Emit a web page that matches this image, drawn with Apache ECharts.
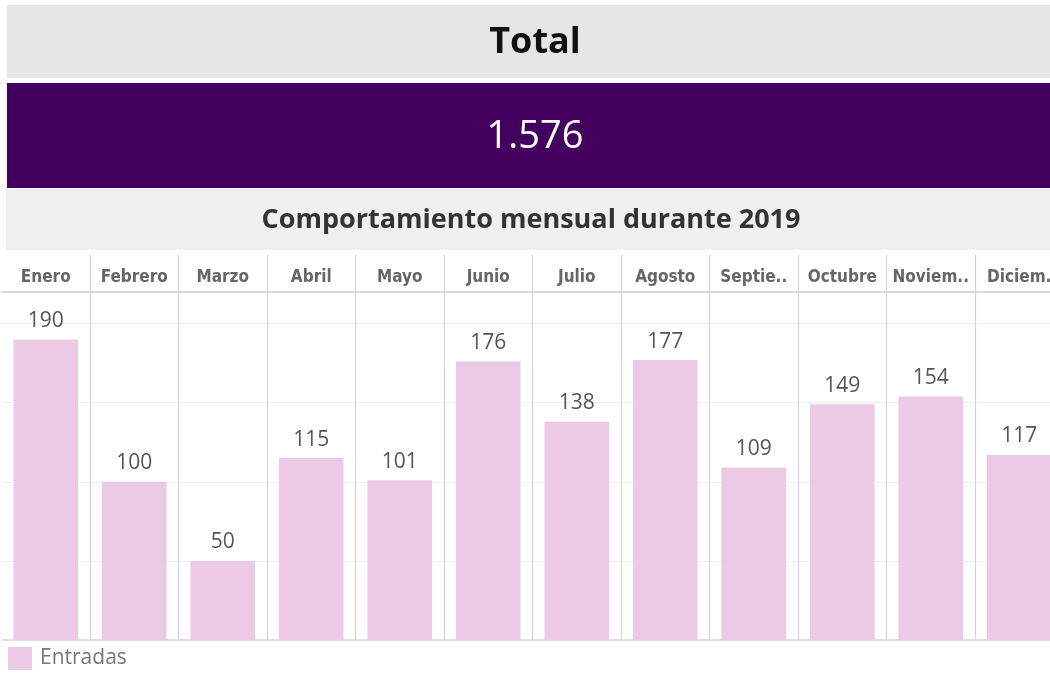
<!DOCTYPE html>
<html>
<head>
<meta charset="utf-8">
<script src="https://cdn.jsdelivr.net/npm/echarts@6/dist/echarts.min.js"></script>
<style>
  html, body { margin: 0; padding: 0; background: #fff; }
  #chart { width: 1050px; height: 673px; }
</style>
</head>
<body>
<div id="chart"></div>
<script>
// datos
const meses = ['Enero', 'Febrero', 'Marzo', 'Abril', 'Mayo', 'Junio', 'Julio', 'Agosto', 'Septie..', 'Octubre', 'Noviem..', 'Diciem.'];
const entradas = [190, 100, 50, 115, 101, 176, 138, 177, 109, 149, 154, 117];
const yMin = 0;
const yMax = 220;
const yInterval = 50;

const total = entradas.reduce((a, b) => a + b, 0);
// separador de miles con punto
const totalTexto = String(total).replace(/\B(?=(\d{3})+(?!\d))/g, '.');

const headerFont = '"Liberation Sans Narrow", "DejaVu Sans Condensed", Roboto, sans-serif';

const chart = echarts.init(document.getElementById('chart'));

const option = {
  animation: false,
  backgroundColor: '#fff',
  graphic: [
    { type: 'rect', shape: { x: 7, y: 5, width: 1043, height: 73 }, style: { fill: '#e6e6e6' } },
    { type: 'rect', shape: { x: 7, y: 83, width: 1043, height: 105 }, style: { fill: '#44005e' } },
    { type: 'rect', shape: { x: 6, y: 189, width: 1044, height: 61 }, style: { fill: '#efefef' } },
    {
      type: 'text', x: 535, y: 43,
      style: { text: 'Total', fontFamily: '"Open Sans"', fontWeight: 'bold', fontSize: 36, fill: '#111', align: 'center', verticalAlign: 'middle' },
    },
    {
      type: 'text', x: 535, y: 137,
      style: { text: totalTexto, fontFamily: '"Open Sans"', fontSize: 38, fill: '#fff', align: 'center', verticalAlign: 'middle' },
    },
    {
      type: 'text', x: 531, y: 220,
      style: { text: 'Comportamiento mensual durante 2019', fontFamily: '"Open Sans"', fontWeight: 'bold', fontSize: 27, fill: '#333', align: 'center', verticalAlign: 'middle' },
    },
  ],
  legend: {
    data: ['Entradas'],
    left: 8,
    top: 647,
    padding: 0,
    icon: 'rect',
    itemWidth: 24,
    itemHeight: 23,
    itemGap: 10,
    textStyle: { fontSize: 21, color: '#777', fontFamily: '"Open Sans"', padding: [6, 0, 0, 3] },
  },
  grid: [
    // fila de encabezados (se sale por la derecha, como el original)
    { left: 1.5, width: 1062, top: 255, height: 37, outerBoundsMode: 'none', containLabel: false },
    // barras
    { left: 1.5, width: 1062, top: 292, bottom: 33, outerBoundsMode: 'none', containLabel: false },
  ],
  xAxis: [
    {
      gridIndex: 0,
      type: 'category',
      data: meses,
      position: 'bottom',
      axisLine: { show: true, lineStyle: { color: '#d0d0d0', width: 1.5 } },
      axisTick: { show: false },
      axisLabel: {
        inside: true,
        interval: 0,
        margin: 6,
        color: '#666',
        fontWeight: 'bold',
        fontSize: 17,
        fontFamily: headerFont,
      },
      splitLine: { show: true, showMinLine: false, lineStyle: { color: '#d4d4d4', width: 1.2 } },
    },
    {
      gridIndex: 1,
      type: 'category',
      data: meses,
      axisLine: { show: true, lineStyle: { color: '#d8d8d8', width: 1.5 } },
      axisTick: { show: false },
      axisLabel: { show: false },
      splitLine: { show: true, showMinLine: false, lineStyle: { color: '#d4d4d4', width: 1.2 } },
    },
  ],
  yAxis: [
    { gridIndex: 0, type: 'value', show: false },
    {
      gridIndex: 1,
      type: 'value',
      min: yMin,
      max: yMax,
      interval: yInterval,
      axisLine: { show: false },
      axisTick: { show: false },
      axisLabel: { show: false },
      splitLine: { show: true, lineStyle: { color: '#f0f0f0' } },
    },
  ],
  series: [
    {
      name: 'Entradas',
      type: 'bar',
      xAxisIndex: 1,
      yAxisIndex: 1,
      data: entradas,
      barWidth: '73%',
      itemStyle: { color: '#ecc9e5' },
      label: {
        show: true,
        position: 'top',
        distance: 8,
        color: '#555',
        fontSize: 21,
        fontFamily: '"Open Sans"',
      },
    },
  ],
};

chart.setOption(option);
</script>
</body>
</html>
